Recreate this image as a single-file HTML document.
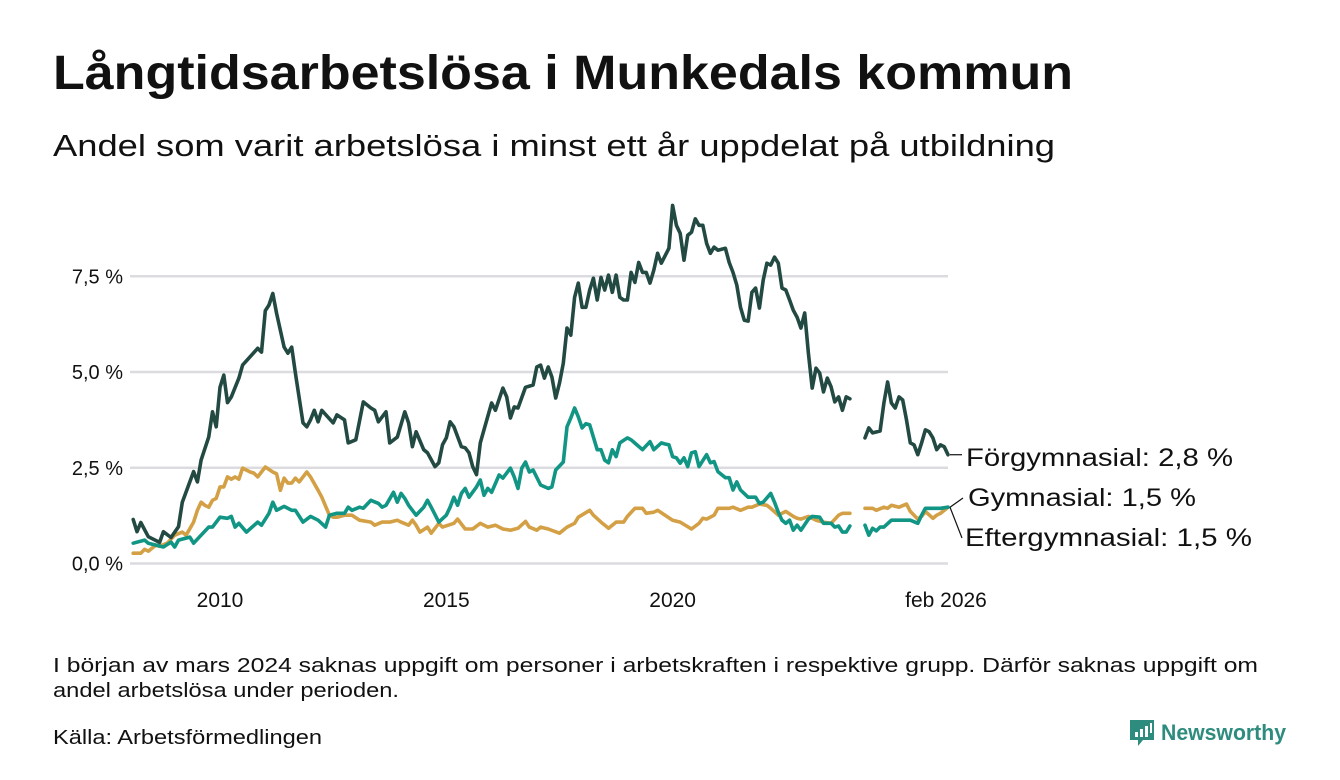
<!DOCTYPE html>
<html><head><meta charset="utf-8"><style>
html,body{margin:0;padding:0;background:#fff;}
svg{display:block;font-family:"Liberation Sans",sans-serif;}
</style></head><body>
<svg id="chart" width="1340" height="780" viewBox="0 0 1340 780" xmlns="http://www.w3.org/2000/svg">
<text x="53" y="89" font-size="48" font-weight="bold" fill="#111" textLength="1020" lengthAdjust="spacingAndGlyphs">Långtidsarbetslösa i Munkedals kommun</text>
<text x="53" y="156" font-size="31" fill="#111" textLength="1002" lengthAdjust="spacingAndGlyphs">Andel som varit arbetslösa i minst ett år uppdelat på utbildning</text>
<g id="grid"></g>
<g id="yaxis"></g>
<g id="xaxis"></g>
<g id="series"></g>
<g id="labels"></g>
<text x="53" y="672" font-size="20" fill="#111" textLength="1205" lengthAdjust="spacingAndGlyphs">I början av mars 2024 saknas uppgift om personer i arbetskraften i respektive grupp. Därför saknas uppgift om</text>
<text x="53" y="697" font-size="20" fill="#111" textLength="346" lengthAdjust="spacingAndGlyphs">andel arbetslösa under perioden.</text>
<text x="53" y="744" font-size="20" fill="#111" textLength="269" lengthAdjust="spacingAndGlyphs">Källa: Arbetsförmedlingen</text>
<g>
<path d="M1130,720 h24 v20 h-11 l-5,6 v-6 h-8 z" fill="#2e8c7e"/>
<rect x="1135" y="732" width="3" height="5" fill="#fff"/><rect x="1140" y="729" width="3" height="8" fill="#fff"/><rect x="1145" y="726" width="3" height="11" fill="#fff"/><rect x="1150" y="723" width="2" height="10" fill="#fff"/>
<text x="1161" y="740" font-size="22" font-weight="bold" fill="#2e8c7e" textLength="125" lengthAdjust="spacingAndGlyphs">Newsworthy</text>
</g>
</svg>
<script>
const yTicks=[0,2.5,5,7.5];
const yTickLabels=["0,0 %","2,5 %","5,0 %","7,5 %"];
const xTicks=[24,84,144,217];
const xTickLabels=["2010","2015","2020","feb 2026"];
// month index since Jan 2008
const forgMonths=[1,2,3,5,8,9,11,13,14,17,18,19,21,22,23,24,25,26,27,29,30,34,35,36,37,38,39,41,42,43,44,46,47,48,49,50,51,54,55,57,58,60,62,64,65,66,68,69,71,73,74,75,76,78,79,81,82,83,84,85,86,88,89,90,91,92,93,94,96,97,99,100,101,102,103,105,107,108,109,110,111,112,113,114,115,116,117,118,119,120,121,122,123,124,125,126,127,128,129,130,131,132,133,134,135,136,137,138,139,140,141,143,144,145,146,147,148,149,150,151,152,153,154,155,156,158,159,160,161,162,163,164,165,166,167,168,169,170,171,172,173,174,175,176,177,178,179,180,181,182,183,184,185,186,187,188,189,190,191,192,195,196,197,199,200,201,202,203,204,205,206,207,208,209,210,211,212,213,214,215,216,217];
const forgValues=[1.15,0.83,1.07,0.7,0.55,0.83,0.68,0.96,1.6,2.4,2.13,2.7,3.3,3.96,3.57,4.6,4.92,4.2,4.35,4.84,5.18,5.62,5.52,6.6,6.75,7.05,6.53,5.65,5.49,5.65,4.97,3.67,3.57,3.75,4.0,3.7,4.0,3.67,3.88,3.75,3.15,3.23,4.22,4.06,4.0,3.7,3.96,3.15,3.3,3.96,3.67,3.05,3.44,2.97,2.89,2.53,2.63,3.1,3.28,3.7,3.57,3.05,3.02,2.89,2.53,2.32,3.15,3.49,4.19,4.0,4.58,4.35,3.8,4.09,4.06,4.6,4.66,5.13,5.18,4.84,5.13,4.87,4.32,4.71,5.23,6.15,5.96,6.95,7.32,6.69,6.69,7.14,7.45,6.88,7.47,7.14,7.53,7.08,7.53,6.95,6.88,6.88,7.6,7.34,7.86,7.6,7.6,7.32,7.66,8.1,7.84,8.23,9.35,8.83,8.62,7.92,8.57,8.65,9.0,8.83,8.83,8.36,8.1,8.26,8.18,8.23,7.86,7.6,7.27,6.69,6.35,6.33,7.08,7.19,6.67,7.4,7.84,7.79,8.0,7.84,7.19,7.14,6.88,6.61,6.43,6.15,6.54,5.49,4.58,5.1,4.97,4.48,4.84,4.61,4.22,4.35,4.0,4.35,4.3,null,3.28,3.54,3.41,3.46,4.19,4.74,4.19,4.06,4.35,4.27,3.75,3.15,3.1,2.84,3.15,3.49,3.44,3.28,2.97,3.1,3.05,2.84];
const gymMonths=[1,4,5,9,11,12,13,16,17,19,21,22,24,26,27,28,29,31,34,35,37,38,39,41,43,44,46,48,50,52,53,55,57,58,59,61,62,64,66,67,68,70,71,72,73,74,76,78,79,80,82,84,85,86,87,88,89,90,92,93,94,95,96,98,99,101,102,103,104,105,106,107,109,111,112,113,115,116,117,118,119,120,121,122,124,125,126,127,128,129,130,132,133,136,138,139,141,142,143,144,145,146,147,148,149,150,151,153,154,155,156,158,159,160,161,162,164,166,167,168,170,171,172,173,174,175,176,177,178,180,181,183,184,186,187,188,189,190,191,192,195,196,197,198,199,200,202,203,205,207,209,210,211,213,215,217];
const gymValues=[0.53,0.61,0.53,0.43,0.56,0.43,0.61,0.69,0.53,0.74,0.95,0.95,1.21,1.18,1.23,0.95,1.05,0.82,1.08,1.0,1.31,1.6,1.39,1.49,1.39,1.39,1.08,1.23,1.13,0.95,1.26,1.31,1.31,1.47,1.39,1.47,1.44,1.65,1.57,1.47,1.52,1.86,1.6,1.83,1.7,1.52,1.26,1.47,1.65,1.47,1.08,1.26,1.47,1.73,1.52,1.83,1.96,1.73,2.0,2.18,1.78,1.96,1.86,2.31,2.23,2.49,2.26,1.96,2.49,2.65,2.39,2.44,2.05,1.96,2.0,2.44,2.65,3.57,3.8,4.06,3.83,3.54,3.65,3.62,2.97,2.97,2.7,2.63,2.97,2.79,3.15,3.28,3.23,2.97,3.18,2.97,3.15,3.12,3.1,2.79,2.76,2.62,2.76,2.53,2.89,2.92,2.53,2.84,2.63,2.66,2.4,2.24,2.24,1.92,2.13,1.92,1.73,1.73,1.57,1.6,1.83,1.6,1.34,1.13,1.05,1.13,0.87,1.0,0.87,1.16,1.23,1.21,1.05,1.05,0.95,0.98,0.82,0.82,0.98,null,1.0,0.74,0.92,0.85,0.95,0.95,1.13,1.13,1.13,1.13,1.05,1.26,1.44,1.44,1.44,1.47];
const eftMonths=[1,3,4,5,7,8,10,12,14,15,17,18,19,20,21,22,23,24,25,26,27,28,29,30,32,33,34,36,38,39,40,41,42,43,44,45,47,48,50,51,53,54,55,57,59,61,64,65,67,69,71,72,74,75,76,77,79,80,82,83,86,87,89,91,93,95,97,99,101,103,105,106,108,109,111,114,116,118,119,122,123,125,127,129,131,132,134,136,137,139,140,142,144,146,149,151,152,153,155,156,159,160,162,164,165,167,169,170,172,174,176,177,178,180,182,184,186,188,189,191,192,195,197,198,200,201,202,204,206,207,209,210,211,213,214,215,217];
const eftValues=[0.27,0.27,0.37,0.32,0.48,0.45,0.53,0.74,0.82,0.74,1.08,1.39,1.6,1.52,1.47,1.65,1.7,2.0,2.0,2.26,2.2,2.26,2.2,2.49,2.39,2.36,2.26,2.52,2.39,2.34,1.91,2.23,2.1,2.1,2.23,2.13,2.39,2.26,1.91,1.73,1.26,1.21,1.21,1.26,1.26,1.13,1.08,1.0,1.08,1.08,1.13,1.08,1.0,1.13,1.0,0.82,0.95,0.79,1.05,0.95,1.05,1.16,0.9,0.9,1.05,0.95,1.0,0.9,0.87,0.92,1.1,0.95,0.87,0.95,0.9,0.79,0.95,1.05,1.21,1.39,1.26,1.08,0.92,1.08,1.08,1.23,1.44,1.44,1.31,1.34,1.39,1.26,1.13,1.08,0.9,1.05,1.18,1.16,1.26,1.44,1.44,1.47,1.39,1.47,1.47,1.55,1.52,1.44,1.26,1.36,1.23,1.18,1.16,1.23,1.13,1.08,1.05,1.26,1.31,1.31,null,1.44,1.44,1.39,1.47,1.44,1.52,1.47,1.55,1.36,1.16,1.23,1.36,1.18,1.26,1.31,1.47];

const NS="http://www.w3.org/2000/svg";
const x0=130,x1=948,mStart=0,mEnd=217;
const xScale=m=>220+(m-24)*3.772;
const yScale=v=>563.5-v*38.3;
function mk(tag,attrs,parent){const e=document.createElementNS(NS,tag);for(const k in attrs)e.setAttribute(k,attrs[k]);parent.appendChild(e);return e;}
const grid=document.getElementById('grid'),ya=document.getElementById('yaxis'),xa=document.getElementById('xaxis'),ser=document.getElementById('series'),lab=document.getElementById('labels');
yTicks.forEach((t,i)=>{
  const l=mk('line',{x1:x0,x2:x1,y1:yScale(t),y2:yScale(t),stroke:'#dcdce0','stroke-width':2.5},grid);
  
  
  const tx=mk('text',{x:123,y:yScale(t)+7,'font-size':20,fill:'#111','text-anchor':'end'},ya);
  tx.textContent=yTickLabels[i];
  
  
});
xTicks.forEach((t,i)=>{
  const tx=mk('text',{x:xScale(t)+(i==3?-2:0),y:607,'font-size':21,fill:'#111','text-anchor':'middle'},xa);
  tx.textContent=xTickLabels[i];
  
  
});
function pathFor(ms,vs){let d='',pen=false;ms.forEach((m,i)=>{const v=vs[i];if(v===null){pen=false;return;}d+=(pen?'L':'M')+xScale(m).toFixed(1)+','+yScale(v).toFixed(1);pen=true;});return d;}
const defs=[[eftMonths,eftValues,'#d4a046','line-eftergymnasial'],[gymMonths,gymValues,'#119584','line-gymnasial'],[forgMonths,forgValues,'#234a42','line-forgymnasial']];
defs.forEach(s=>{
  const p=mk('path',{d:pathFor(s[0],s[1]),fill:'none',stroke:s[2],'stroke-width':3.6,'stroke-linejoin':'round','stroke-linecap':'round'},ser);
  
  
});
const fy=yScale(forgValues[forgValues.length-1]),gy=yScale(gymValues[gymValues.length-1]),ey=yScale(eftValues[eftValues.length-1]);
const ex=xScale(217)+2;
const l1=mk('path',{d:`M${ex},${fy} H962`,stroke:'#111','stroke-width':1.2,fill:'none'},lab);


const l2=mk('path',{d:`M${ex},${gy} L963,498`,stroke:'#111','stroke-width':1.2,fill:'none'},lab);


const l3=mk('path',{d:`M${ex},${ey} L962,538`,stroke:'#111','stroke-width':1.2,fill:'none'},lab);


[["Förgymnasial: 2,8 %",966,466,267,'label-forgymnasial'],["Gymnasial: 1,5 %",968,506,228,'label-gymnasial'],["Eftergymnasial: 1,5 %",965,546,287,'label-eftergymnasial']].forEach(a=>{
  const t=mk('text',{x:a[1],y:a[2],'font-size':25,fill:'#111',textLength:a[3],lengthAdjust:'spacingAndGlyphs'},lab);
  t.textContent=a[0];
  
  
});
</script>
</body></html>
